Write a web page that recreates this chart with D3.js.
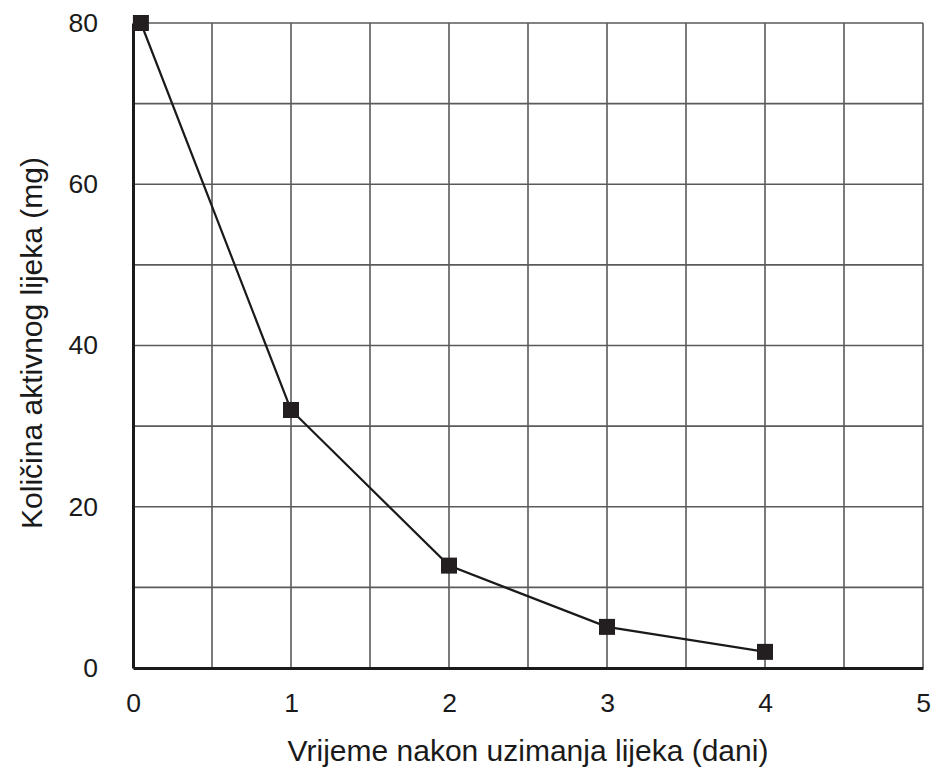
<!DOCTYPE html>
<html>
<head>
<meta charset="utf-8">
<script src="https://cdn.jsdelivr.net/npm/d3@7"></script>
<style>
  html, body { margin: 0; padding: 0; background: #fff; }
  svg { display: block; }
  text { font-family: "Liberation Sans", Arial, sans-serif; fill: #1a1a1a; }
</style>
</head>
<body>
<svg id="chart" width="943" height="769"></svg>
<script>
// Data
const days = [0.05, 1, 2, 3, 4];
const amountMg = [80, 32, 12.7, 5.1, 2.0];
const xTickLabels = [0, 1, 2, 3, 4, 5];
const yTickLabels = [0, 20, 40, 60, 80];
const xGridValues = [0.5, 1, 1.5, 2, 2.5, 3, 3.5, 4, 4.5, 5];
const yGridValues = [10, 20, 30, 40, 50, 60, 70, 80];
const xTitle = "Vrijeme nakon uzimanja lijeka (dani)";
const yTitle = "Količina aktivnog lijeka (mg)";

const svg = d3.select("#chart");
const mLeft = 133, mRight = 923, mTop = 23, mBottom = 668;

const x = d3.scaleLinear().domain([0, 5]).range([mLeft, mRight]);
const y = d3.scaleLinear().domain([0, 80]).range([mBottom, mTop]);

// grid
const grid = svg.append("g").attr("stroke", "#5a5a5a").attr("stroke-width", 1.6);
grid.selectAll("line.v").data(xGridValues).join("line")
  .attr("x1", d => x(d)).attr("x2", d => x(d))
  .attr("y1", y(80)).attr("y2", y(0));
grid.selectAll("line.h").data(yGridValues).join("line")
  .attr("y1", d => y(d)).attr("y2", d => y(d))
  .attr("x1", x(0)).attr("x2", x(5));

// axes (thick left and bottom)
const xAxis = d3.axisBottom(x).tickValues(xTickLabels).tickSize(0).tickPadding(25).tickFormat(d3.format("d"));
const yAxis = d3.axisLeft(y).tickValues(yTickLabels).tickSize(0).tickPadding(35).tickFormat(d3.format("d"));

const gx = svg.append("g").attr("transform", `translate(0,${mBottom})`).call(xAxis);
gx.select(".domain").attr("stroke", "#1a1a1a").attr("stroke-width", 3);
gx.selectAll("text").attr("font-size", 26.5).attr("fill", "#1a1a1a")
  .attr("font-family", "'Liberation Sans', Arial, sans-serif");

const gy = svg.append("g").attr("transform", `translate(${mLeft},0)`).call(yAxis);
gy.select(".domain").attr("stroke", "#1a1a1a").attr("stroke-width", 3);
gy.selectAll("text").attr("font-size", 26.5).attr("fill", "#1a1a1a")
  .attr("font-family", "'Liberation Sans', Arial, sans-serif");

// line
const pts = days.map((d, i) => [d, amountMg[i]]);
svg.append("path")
  .datum(pts)
  .attr("fill", "none")
  .attr("stroke", "#1a1a1a")
  .attr("stroke-width", 2.2)
  .attr("d", d3.line().x(d => x(d[0])).y(d => y(d[1])));

// square markers
const s = 16;
svg.selectAll("rect.m").data(pts).join("rect")
  .attr("x", d => x(d[0]) - s / 2)
  .attr("y", d => y(d[1]) - s / 2)
  .attr("width", s).attr("height", s)
  .attr("fill", "#231f20");

// titles
svg.append("text")
  .attr("x", 528).attr("y", 761)
  .attr("text-anchor", "middle")
  .attr("font-size", 30)
  .text(xTitle);

svg.append("text")
  .attr("transform", "translate(42,343) rotate(-90)")
  .attr("text-anchor", "middle")
  .attr("font-size", 30)
  .text(yTitle);
</script>
</body>
</html>
